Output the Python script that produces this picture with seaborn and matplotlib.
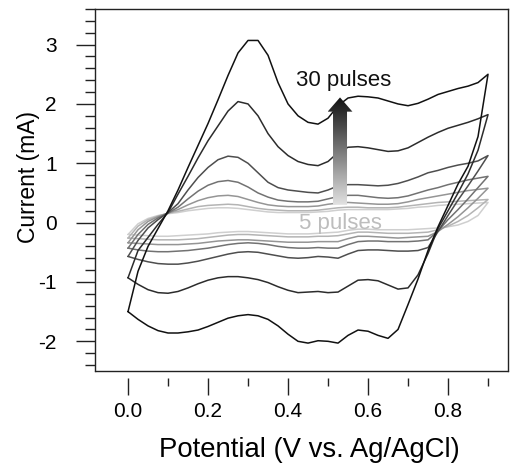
import numpy as np
import pandas as pd
import matplotlib
matplotlib.use("Agg")
import matplotlib.pyplot as plt
import seaborn as sns
from matplotlib.patches import Polygon
from matplotlib.colors import LinearSegmentedColormap
from matplotlib.ticker import MultipleLocator

# ---------------- data ----------------
potential = [0.000, 0.025, 0.050, 0.075, 0.100, 0.125, 0.150, 0.175, 0.200,
             0.225, 0.250, 0.275, 0.300, 0.325, 0.350, 0.375, 0.400, 0.425,
             0.450, 0.475, 0.500, 0.525, 0.550, 0.575, 0.600, 0.625, 0.650,
             0.675, 0.700, 0.725, 0.750, 0.775, 0.800, 0.825, 0.850, 0.875,
             0.900]

curve_names = ["5 pulses", "8 pulses", "10 pulses", "15 pulses",
               "20 pulses", "25 pulses", "30 pulses"]

# anodic (forward) sweep currents, mA, at each potential
up_5 = [-0.20, -0.02, 0.07, 0.12, 0.15, 0.17, 0.20, 0.22, 0.24, 0.25, 0.25, 0.24,
        0.22, 0.20, 0.18, 0.17, 0.17, 0.17, 0.17, 0.18, 0.19, 0.21, 0.22, 0.22,
        0.22, 0.22, 0.22, 0.23, 0.24, 0.26, 0.27, 0.29, 0.30, 0.31, 0.32, 0.33, 0.34]
up_8 = [-0.26, -0.06, 0.05, 0.11, 0.16, 0.19, 0.23, 0.27, 0.29, 0.30, 0.31, 0.30,
        0.27, 0.24, 0.22, 0.21, 0.20, 0.20, 0.20, 0.21, 0.23, 0.25, 0.26, 0.26,
        0.25, 0.25, 0.25, 0.26, 0.28, 0.30, 0.32, 0.34, 0.35, 0.36, 0.37, 0.38, 0.39]
up_10 = [-0.34, -0.12, 0.02, 0.10, 0.16, 0.22, 0.30, 0.37, 0.42, 0.45, 0.46, 0.44,
         0.39, 0.34, 0.30, 0.28, 0.27, 0.27, 0.27, 0.28, 0.31, 0.33, 0.34, 0.33,
         0.32, 0.31, 0.31, 0.32, 0.35, 0.39, 0.42, 0.45, 0.48, 0.51, 0.54, 0.56, 0.58]
up_15 = [-0.43, -0.20, -0.03, 0.08, 0.16, 0.26, 0.40, 0.53, 0.63, 0.69, 0.71, 0.68,
         0.60, 0.50, 0.43, 0.38, 0.36, 0.35, 0.35, 0.36, 0.40, 0.44, 0.46, 0.46,
         0.44, 0.42, 0.41, 0.42, 0.45, 0.50, 0.55, 0.59, 0.64, 0.68, 0.72, 0.75, 0.78]
up_20 = [-0.57, -0.30, -0.09, 0.05, 0.17, 0.32, 0.55, 0.76, 0.93, 1.06, 1.12, 1.10,
         1.00, 0.84, 0.68, 0.59, 0.55, 0.53, 0.51, 0.50, 0.55, 0.62, 0.64, 0.64,
         0.63, 0.62, 0.63, 0.66, 0.71, 0.77, 0.84, 0.88, 0.93, 0.97, 1.00, 1.04, 1.13]
up_25 = [-0.93, -0.47, -0.25, -0.03, 0.17, 0.48, 0.78, 1.09, 1.38, 1.63, 1.88, 2.04,
         2.00, 1.80, 1.50, 1.28, 1.13, 1.03, 0.98, 0.96, 1.03, 1.18, 1.27, 1.28,
         1.26, 1.23, 1.20, 1.21, 1.26, 1.35, 1.44, 1.52, 1.59, 1.64, 1.69, 1.75, 1.82]
up_30 = [-1.50, -0.82, -0.40, -0.10, 0.20, 0.55, 0.93, 1.30, 1.67, 2.07, 2.48, 2.86,
         3.07, 3.07, 2.82, 2.36, 2.00, 1.80, 1.69, 1.66, 1.76, 1.97, 2.10, 2.13,
         2.12, 2.10, 2.05, 2.00, 1.97, 2.01, 2.08, 2.16, 2.21, 2.26, 2.30, 2.36, 2.50]

# cathodic (reverse) sweep currents, mA, at each potential (listed low -> high E)
down_5 = [-0.20, -0.21, -0.22, -0.23, -0.23, -0.22, -0.21, -0.20, -0.19, -0.17,
          -0.16, -0.15, -0.15, -0.16, -0.17, -0.18, -0.19, -0.19, -0.19, -0.18,
          -0.17, -0.16, -0.13, -0.11, -0.11, -0.12, -0.12, -0.12, -0.12, -0.11,
          -0.10, -0.09, -0.07, -0.04, 0.02, 0.12, 0.34]
down_8 = [-0.26, -0.27, -0.28, -0.29, -0.29, -0.29, -0.28, -0.27, -0.25, -0.23,
          -0.21, -0.20, -0.20, -0.21, -0.22, -0.23, -0.24, -0.24, -0.24, -0.23,
          -0.23, -0.22, -0.19, -0.16, -0.16, -0.17, -0.18, -0.18, -0.18, -0.17,
          -0.16, -0.12, -0.06, 0.02, 0.12, 0.25, 0.39]
down_10 = [-0.34, -0.35, -0.36, -0.37, -0.37, -0.37, -0.36, -0.35, -0.33, -0.31,
           -0.30, -0.29, -0.29, -0.30, -0.31, -0.32, -0.33, -0.33, -0.33, -0.32,
           -0.32, -0.32, -0.27, -0.23, -0.23, -0.24, -0.25, -0.26, -0.25, -0.24,
           -0.23, -0.15, -0.03, 0.10, 0.25, 0.41, 0.58]
down_15 = [-0.43, -0.46, -0.48, -0.49, -0.49, -0.48, -0.47, -0.45, -0.43, -0.40,
           -0.37, -0.35, -0.34, -0.35, -0.37, -0.40, -0.42, -0.43, -0.43, -0.42,
           -0.43, -0.43, -0.37, -0.32, -0.31, -0.31, -0.32, -0.32, -0.32, -0.31,
           -0.29, -0.14, 0.05, 0.22, 0.40, 0.59, 0.78]
down_20 = [-0.57, -0.62, -0.66, -0.69, -0.70, -0.70, -0.68, -0.65, -0.61, -0.57,
           -0.53, -0.50, -0.49, -0.50, -0.53, -0.56, -0.59, -0.60, -0.59, -0.57,
           -0.58, -0.60, -0.53, -0.47, -0.46, -0.46, -0.47, -0.48, -0.48, -0.47,
           -0.42, -0.15, 0.12, 0.38, 0.62, 0.87, 1.13]
down_25 = [-0.93, -1.04, -1.13, -1.18, -1.19, -1.16, -1.10, -1.03, -0.97, -0.93,
           -0.91, -0.91, -0.93, -0.96, -1.01, -1.08, -1.14, -1.18, -1.17, -1.16,
           -1.18, -1.17, -1.07, -0.97, -0.96, -0.98, -1.05, -1.12, -1.10, -0.88,
           -0.52, -0.10, 0.20, 0.50, 0.82, 1.22, 1.82]
down_30 = [-1.50, -1.63, -1.74, -1.82, -1.86, -1.86, -1.84, -1.81, -1.75, -1.68,
           -1.61, -1.57, -1.55, -1.57, -1.63, -1.74, -1.88, -2.00, -2.03, -1.99,
           -2.00, -2.03, -1.90, -1.81, -1.83, -1.90, -1.95, -1.80, -1.38, -0.95,
           -0.47, -0.07, 0.29, 0.65, 0.95, 1.45, 2.50]

ups = [up_5, up_8, up_10, up_15, up_20, up_25, up_30]
downs = [down_5, down_8, down_10, down_15, down_20, down_25, down_30]
line_colors = ["#cfcfcf", "#b4b4b4", "#959595", "#727272", "#4e4e4e", "#2c2c2c", "#111111"]

# build a long-form table: each loop = forward sweep then reverse sweep
rows = []
for name, up, down in zip(curve_names, ups, downs):
    E_loop = list(potential) + list(potential[::-1])
    I_loop = list(up) + list(down[::-1])
    for k, (e, i) in enumerate(zip(E_loop, I_loop)):
        rows.append({"curve": name, "E": e, "I": i, "step": k})
df = pd.DataFrame(rows)

# ---------------- plotting ----------------
sns.set_theme(style="white")
plt.rcParams["font.family"] = ["Liberation Sans", "DejaVu Sans"]
plt.rcParams["text.color"] = "black"
plt.rcParams["axes.labelcolor"] = "black"
plt.rcParams["xtick.color"] = "black"
plt.rcParams["ytick.color"] = "black"

fig = plt.figure(figsize=(5.27, 4.66), dpi=100)
ax = fig.add_axes([0.1803, 0.2039, 0.7837, 0.7768])

sns.lineplot(data=df, x="E", y="I", hue="curve", hue_order=curve_names,
             palette=dict(zip(curve_names, line_colors)), sort=False,
             estimator=None, legend=False, linewidth=1.1, ax=ax, zorder=2)

# gradient arrow (5 -> 30 pulses)
xc, y0, yb, yt = 0.530, 0.30, 1.87, 2.11
hw, hh = 0.0175, 0.031
arrow_xy = [(xc - hw, y0), (xc + hw, y0), (xc + hw, yb), (xc + hh, yb),
            (xc, yt), (xc - hh, yb), (xc - hw, yb)]
poly = Polygon(arrow_xy, closed=True, facecolor="none", edgecolor="none",
               transform=ax.transData)
ax.add_patch(poly)
cmap = LinearSegmentedColormap.from_list("g", ["#e2e2e2", "#111111"])
grad = np.linspace(0, 1, 256).reshape(-1, 1)
im = ax.imshow(grad, cmap=cmap, origin="lower", aspect="auto",
               extent=[xc - hh, xc + hh, y0, yt], zorder=3, interpolation="bilinear")
im.set_clip_path(poly)

ax.text(0.54, 2.31, "30 pulses", ha="center", va="baseline",
        fontsize=16, color="#111111", zorder=4)
ax.text(0.531, -0.10, "5 pulses", ha="center", va="baseline",
        fontsize=16, color="#bdbdbd", zorder=4)

ax.set_xlim(-0.0825, 0.95)
ax.set_ylim(-2.5, 3.6)

# axes styling
for s in ["left", "top", "right"]:
    ax.spines[s].set_color("#222222")
    ax.spines[s].set_linewidth(1.0)
ax.spines["bottom"].set_position(("outward", 5))
ax.spines["bottom"].set_color("none")
ax.plot([0, 1], [0, 0], transform=ax.transAxes, color="#222222", lw=1.0,
        clip_on=False, zorder=5)

ax.xaxis.set_minor_locator(MultipleLocator(0.1))
ax.yaxis.set_minor_locator(MultipleLocator(0.2))
ax.set_xticks([0.0, 0.2, 0.4, 0.6, 0.8])
ax.set_xticklabels(["0.0", "0.2", "0.4", "0.6", "0.8"])
ax.set_yticks([-2, -1, 0, 1, 2, 3])
ax.set_yticklabels(["-2", "-1", "0", "1", "2", "3"])

ax.tick_params(axis="both", which="both", direction="out", color="#222222",
               labelcolor="black", width=1.0, bottom=True, left=True,
               top=False, right=False)
ax.tick_params(axis="x", which="major", length=12.5, labelsize=15, pad=5)
ax.tick_params(axis="y", which="major", length=13.5, labelsize=15, pad=14)
ax.tick_params(axis="x", which="minor", length=5.5)
ax.tick_params(axis="y", which="minor", length=7)

ax.set_xlabel("Potential (V vs. Ag/AgCl)", fontsize=19.8)
ax.xaxis.set_label_coords(0.52, -0.182)
ax.set_ylabel("Current (mA)", fontsize=16.5)
ax.yaxis.set_label_coords(-0.133, 0.536)

fig.savefig("out.png", dpi=100)
